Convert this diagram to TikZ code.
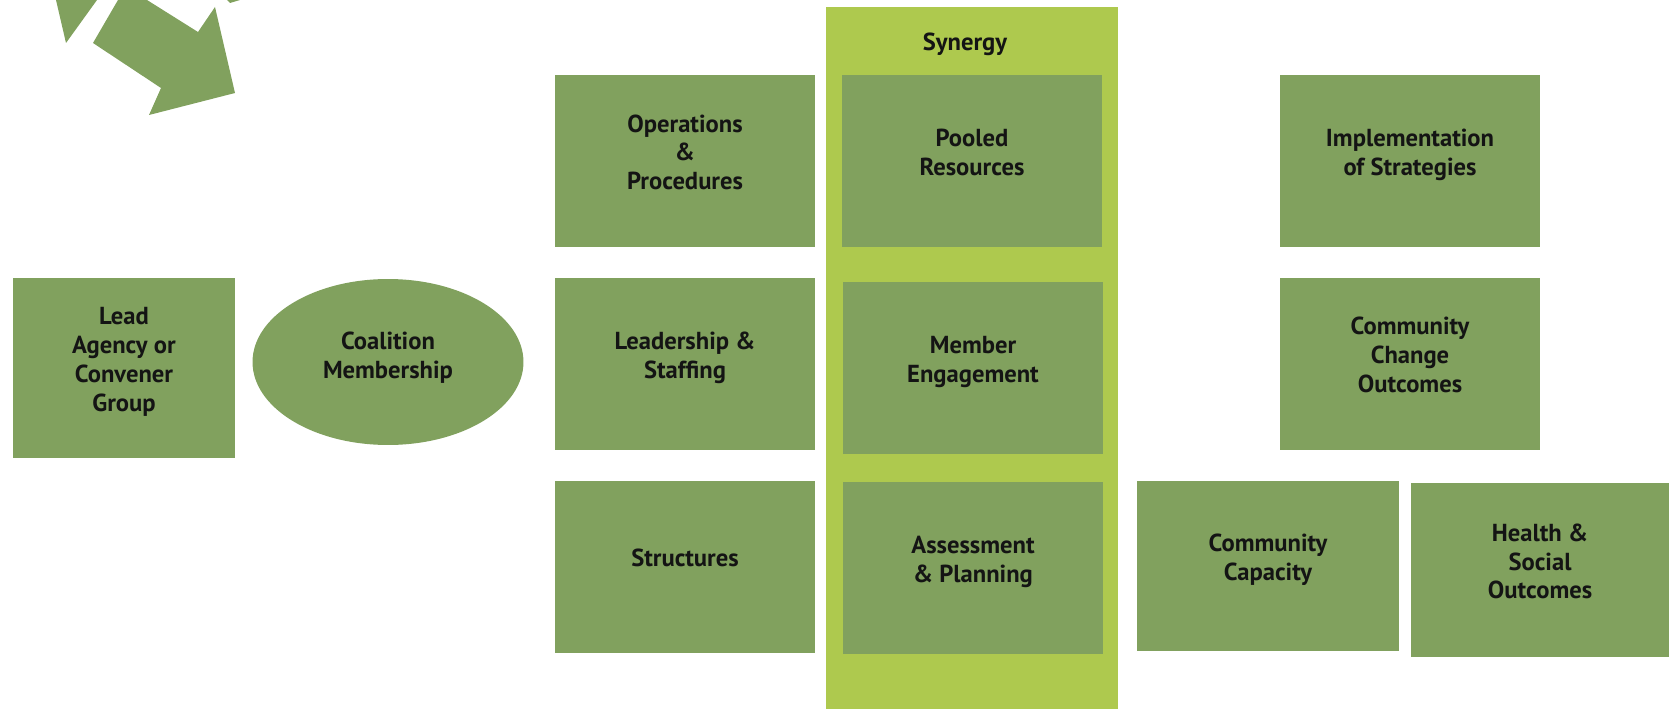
\documentclass[tikz,border=0pt]{standalone}
\usepackage{xcolor}
\usepackage{fontspec}
\usepackage{tikz}
\usetikzlibrary{shapes.geometric}
\setmainfont{PT Sans}
\definecolor{leaf}{HTML}{81A15E}
\definecolor{lime}{HTML}{AEC94E}
\definecolor{ink}{HTML}{141414}

\begin{document}
\begin{tikzpicture}[x=0.02cm, y=-0.02cm, node distance=4.06cm]
        \tikzstyle{box} = [rectangle, fill=leaf, text=ink, align=center, font=\fontsize{14}{16.5}\selectfont\bfseries, minimum width=5.2cm, minimum height=3.44cm, inner sep=0pt, text depth=10pt]
        \tikzstyle{oval} = [ellipse, fill=leaf, text=ink, align=center, font=\fontsize{14}{16.5}\selectfont\bfseries, minimum width=5.42cm, minimum height=3.32cm, inner sep=0pt, text depth=8pt]

        \useasboundingbox (0,0) rectangle (1669,709);

        % arrow fragments, top left
        \fill [leaf] (56,0) -- (97,0) -- (66,43) -- cycle;
        \fill [leaf] (118,0) -- (147,0) -- (198,32) -- (215,7) -- (235,93) -- (149,115) -- (161,88) -- (93,43) -- cycle;
        \fill [leaf] (227,0) -- (240,0) -- (230,3) -- cycle;

        % synergy column
        \fill [lime] (826,7) rectangle (1118,709);
        \node [text=ink, font=\fontsize{14}{16.5}\selectfont\bfseries] (syn) at (965,44) {Synergy};

        \node [box, minimum width=4.44cm, minimum height=3.6cm] (lead) at (124,368) {Lead\\Agency or\\Convener\\Group};
        \node [oval] (coal) at (388,362) {Coalition\\Membership};

        \node [box] (ops) at (685,161) {Operations\\\&\\Procedures};
        \node [box, below of=ops] (staff) {Leadership \&\\Staffing};
        \node [box, below of=staff] (struct) {Structures};

        \node [box] (pool) at (972,161) {Pooled\\Resources};
        \node [box] (member) at (973,368) {Member\\Engagement};
        \node [box] (assess) at (973,568) {Assessment\\\& Planning};

        \node [box] (impl) at (1410,161) {Implementation\\of Strategies};
        \node [box, below of=impl] (change) {Community\\Change\\Outcomes};
        \node [box, minimum width=5.24cm, minimum height=3.42cm] (capac) at (1268,566) {Community\\Capacity};
        \node [box, minimum width=5.16cm, minimum height=3.48cm] (health) at (1540,570) {Health \&\\Social\\Outcomes};
\end{tikzpicture}
\end{document}
